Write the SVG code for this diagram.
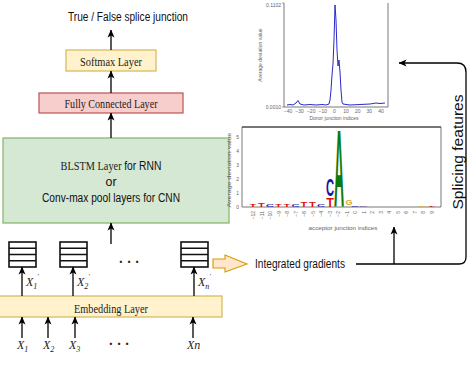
<svg xmlns="http://www.w3.org/2000/svg" width="474" height="368" viewBox="0 0 474 368">
<defs>
<marker id="ah" markerWidth="8" markerHeight="8" refX="7.5" refY="4" orient="auto" markerUnits="userSpaceOnUse"><path d="M0,0.5 L8,4 L0,7.5 L2,4 Z" fill="#000"/></marker>
</defs>
<style>
.serif{font-family:"Liberation Serif","Times New Roman",serif;fill:#222}
.it{font-style:italic}
.sans{font-family:"Liberation Sans",Arial,sans-serif;fill:#111}
.conn{stroke:#000;stroke-width:1.3;fill:none}
.yel{fill:#fff2cc;stroke:#d6b656;stroke-width:1.2}
.red{fill:#f8cecc;stroke:#b85450;stroke-width:1.2}
.grn{fill:#d5e8d4;stroke:#82b366;stroke-width:1.2}
.vec{fill:#fff;stroke:#111;stroke-width:1.6}
.ax{fill:none;stroke:#555;stroke-width:0.8}
.tiny{font-family:"Liberation Sans",Arial,sans-serif;fill:#666;font-size:5px}
.lg{font-family:"Liberation Sans",Arial,sans-serif;font-weight:bold;font-size:14px;text-anchor:middle}
</style>
<rect x="0" y="0" width="474" height="368" fill="#fff"/>

<g id="title"><text class="sans" x="128" y="21" font-size="12" text-anchor="middle" textLength="120" lengthAdjust="spacingAndGlyphs">True / False splice junction</text></g>

<g id="softmax"><rect class="yel" x="66" y="50" width="90" height="21"/><text class="serif" x="111" y="65.5" font-size="11.5" text-anchor="middle" textLength="62" lengthAdjust="spacingAndGlyphs">Softmax Layer</text></g>

<g id="fc"><rect class="red" x="39" y="93" width="144" height="20"/><text class="serif" x="111" y="108" font-size="12" text-anchor="middle" textLength="93" lengthAdjust="spacingAndGlyphs">Fully Connected Layer</text></g>

<g id="blstm"><rect class="grn" x="3" y="138" width="226" height="85"/>
<text transform="translate(111,170) scale(0.86,1)" text-anchor="middle" font-size="12"><tspan class="serif">BLSTM Layer </tspan><tspan class="sans">for RNN</tspan></text>
<text class="sans" x="111" y="186" font-size="12" text-anchor="middle" textLength="11" lengthAdjust="spacingAndGlyphs">or</text>
<text class="sans" x="111" y="202" font-size="12" text-anchor="middle" textLength="138" lengthAdjust="spacingAndGlyphs">Conv-max pool layers for CNN</text></g>

<g id="vec1"><rect class="vec" x="9" y="242" width="27" height="25"/><path d="M9,248.25H36M9,254.5H36M9,260.75H36" stroke="#111" stroke-width="1.4"/></g>
<g id="vec2"><rect class="vec" x="60" y="242" width="27" height="25"/><path d="M60,248.25H87M60,254.5H87M60,260.75H87" stroke="#111" stroke-width="1.4"/></g>
<g id="vecn"><rect class="vec" x="181" y="242" width="27" height="25"/><path d="M181,248.25H208M181,254.5H208M181,260.75H208" stroke="#111" stroke-width="1.4"/></g>
<g id="dots-top"><text class="serif" x="129" y="267" font-size="14" font-weight="bold" text-anchor="middle">· · ·</text></g>

<g id="xprime">
<text class="serif it" x="26" y="286" font-size="12">X<tspan font-size="8" dy="3">1</tspan><tspan font-size="7" dy="-11">'</tspan></text>
<text class="serif it" x="77" y="286" font-size="12">X<tspan font-size="8" dy="3">2</tspan><tspan font-size="7" dy="-11">'</tspan></text>
<text class="serif it" x="198" y="286" font-size="12">X<tspan font-size="8" dy="3">n</tspan><tspan font-size="7" dy="-11">'</tspan></text>
</g>

<g id="emb"><rect class="yel" x="-1" y="296" width="223" height="21"/><text class="serif" x="111" y="312.5" font-size="11.5" text-anchor="middle" textLength="74" lengthAdjust="spacingAndGlyphs">Embedding Layer</text></g>

<g id="xinputs">
<text class="serif it" x="17" y="349" font-size="12">X<tspan font-size="8" dy="3">1</tspan></text>
<text class="serif it" x="43" y="349" font-size="12">X<tspan font-size="8" dy="3">2</tspan></text>
<text class="serif it" x="69" y="349" font-size="12">X<tspan font-size="8" dy="3">3</tspan></text>
<text class="serif" x="119" y="349" font-size="14" font-weight="bold" text-anchor="middle">· · ·</text>
<text class="serif it" x="187" y="349" font-size="12">Xn</text>
</g>

<g id="ig-arrow"><path d="M213,259 H225 V255 L247,264 L225,272 V268 H213 Z" fill="#ffe6cc" stroke="#d79b00" stroke-width="1.1"/></g>
<g id="ig-label"><text class="sans" x="255" y="268" font-size="12" textLength="90" lengthAdjust="spacingAndGlyphs">Integrated gradients</text></g>

<g id="splicing-label"><text class="sans" transform="translate(463,152) rotate(-90)" font-size="14" text-anchor="middle" textLength="115" lengthAdjust="spacingAndGlyphs">Splicing features</text></g>

<g id="donor-plot">
<path class="ax" d="M284,3V107H388V3"/>
<path d="M284,3h-2M284,107h-2" stroke="#666" stroke-width="0.6"/>
<text class="tiny" x="281" y="7" text-anchor="end" font-size="4.5">0.1102</text>
<text class="tiny" x="281" y="108.5" text-anchor="end" font-size="4.5">0.0010</text>
<text class="tiny" transform="translate(262,55) rotate(-90)" text-anchor="middle" font-size="3.5">Average deviation value</text>
<g class="tiny" font-size="4.5" text-anchor="middle">
<text x="288" y="112.5">−40</text><text x="299.6" y="112.5">−30</text><text x="311.2" y="112.5">−20</text><text x="322.8" y="112.5">−10</text><text x="334.5" y="112.5">0</text><text x="346" y="112.5">10</text><text x="357.7" y="112.5">20</text><text x="369.3" y="112.5">30</text><text x="381" y="112.5">40</text>
</g>
<text class="tiny" x="334" y="119.5" text-anchor="middle" font-size="4.5">Donor junction indices</text>
<polyline fill="none" stroke="#2a2ac8" stroke-width="1" points="287,105 290,104.5 293,105 296,103 298,100.5 300,104 304,105 310,104.5 316,105 322,104.5 326,105 329,104 330,100 331,90 332,75 333,64 334,40 335,5 336,20 337,50 338,66 339,60 340,72 341,90 342,102 343,104 350,105 360,104.5 370,104 376,103 380,103.5 385,103"/>
</g>

<g id="acceptor-plot">
<path class="ax" d="M242,127V207H441V127Z"/>
<path d="M242,127H441" stroke="#333" stroke-width="1.2"/>
<g class="tiny" font-size="5.5" text-anchor="end">
<text x="239" y="209">0</text><text x="239" y="195">1</text><text x="239" y="181">2</text><text x="239" y="167">3</text><text x="239" y="153">4</text><text x="239" y="139">5</text>
</g>
<text class="tiny" transform="translate(231,170) rotate(-90)" text-anchor="middle" font-size="5.5" textLength="75" lengthAdjust="spacingAndGlyphs">Average deviation value</text>
<g class="tiny" font-size="5" text-anchor="end">
<text transform="translate(255,211) rotate(-90)">−12</text>
<text transform="translate(263.5,211) rotate(-90)">−11</text>
<text transform="translate(272,211) rotate(-90)">−10</text>
<text transform="translate(280.5,211) rotate(-90)">−9</text>
<text transform="translate(289,211) rotate(-90)">−8</text>
<text transform="translate(297.5,211) rotate(-90)">−7</text>
<text transform="translate(306,211) rotate(-90)">−6</text>
<text transform="translate(314.5,211) rotate(-90)">−5</text>
<text transform="translate(323,211) rotate(-90)">−4</text>
<text transform="translate(331.5,211) rotate(-90)">−3</text>
<text transform="translate(340,211) rotate(-90)">−2</text>
<text transform="translate(348.5,211) rotate(-90)">−1</text>
<text transform="translate(357,211) rotate(-90)">0</text>
<text transform="translate(365.5,211) rotate(-90)">1</text>
<text transform="translate(374,211) rotate(-90)">2</text>
<text transform="translate(382.5,211) rotate(-90)">3</text>
<text transform="translate(391,211) rotate(-90)">4</text>
<text transform="translate(399.5,211) rotate(-90)">5</text>
<text transform="translate(408,211) rotate(-90)">6</text>
<text transform="translate(416.5,211) rotate(-90)">7</text>
<text transform="translate(425,211) rotate(-90)">8</text>
<text transform="translate(433.5,211) rotate(-90)">9</text>
</g>
<text class="tiny" x="343" y="230" text-anchor="middle" font-size="6" textLength="69" lengthAdjust="spacingAndGlyphs">acceptor junction indices</text>
<text class="lg" fill="#0d7a0d" transform="translate(339,206) scale(1.0,7.8)">A</text>
<text class="lg" fill="#1414a8" transform="translate(330,196) scale(0.8,1.7)">C</text>
<text class="lg" fill="#e01010" transform="translate(330,207) scale(0.9,0.85)">T</text>
<text class="lg" fill="#d8a818" transform="translate(349,205) scale(0.65,0.55)">G</text>
<text class="lg" fill="#e01010" transform="translate(253,207) scale(0.8,0.2)">T</text>
<text class="lg" fill="#e01010" transform="translate(261.5,207) scale(0.8,0.4)">T</text>
<text class="lg" fill="#1414a8" transform="translate(270,207) scale(0.8,0.2)">C</text>
<text class="lg" fill="#e01010" transform="translate(278.5,207) scale(0.8,0.2)">T</text>
<text class="lg" fill="#e01010" transform="translate(287,207) scale(0.8,0.3)">T</text>
<text class="lg" fill="#1414a8" transform="translate(295.5,207) scale(0.8,0.25)">C</text>
<text class="lg" fill="#e01010" transform="translate(304,207) scale(0.8,0.55)">T</text>
<text class="lg" fill="#e01010" transform="translate(312.5,207) scale(0.8,0.45)">T</text>
<text class="lg" fill="#1414a8" transform="translate(321,207) scale(0.8,0.25)">C</text>
<text class="lg" fill="#1414a8" transform="translate(355,207) scale(0.8,0.15)">C</text>
<text class="lg" fill="#7a4a9a" transform="translate(363.5,207) scale(0.8,0.12)">G</text>
<text class="lg" fill="#d8a818" transform="translate(423,207) scale(0.8,0.15)">G</text>
<text class="lg" fill="#e01010" transform="translate(431.5,207) scale(0.8,0.15)">T</text>
</g>

<g id="connectors">
<path class="conn" d="M111,50V30" marker-end="url(#ah)"/>
<path class="conn" d="M111,93V71" marker-end="url(#ah)"/>
<path class="conn" d="M111,138V113" marker-end="url(#ah)"/>
<path class="conn" d="M111,244V223" marker-end="url(#ah)"/>
<path class="conn" d="M22,296V267" marker-end="url(#ah)"/>
<path class="conn" d="M73,296V267" marker-end="url(#ah)"/>
<path class="conn" d="M194,296V267" marker-end="url(#ah)"/>
<path class="conn" d="M22,338V317" marker-end="url(#ah)"/>
<path class="conn" d="M48,338V317" marker-end="url(#ah)"/>
<path class="conn" d="M75,338V317" marker-end="url(#ah)"/>
<path class="conn" d="M193,338V317" marker-end="url(#ah)"/>
<path class="conn" stroke="#333" d="M356,264H459Q466,264 466,257V72Q466,63 457,63H399" marker-end="url(#ah)"/>
<path class="conn" stroke="#333" d="M394,264V227" marker-end="url(#ah)"/>
</g>
</svg>
